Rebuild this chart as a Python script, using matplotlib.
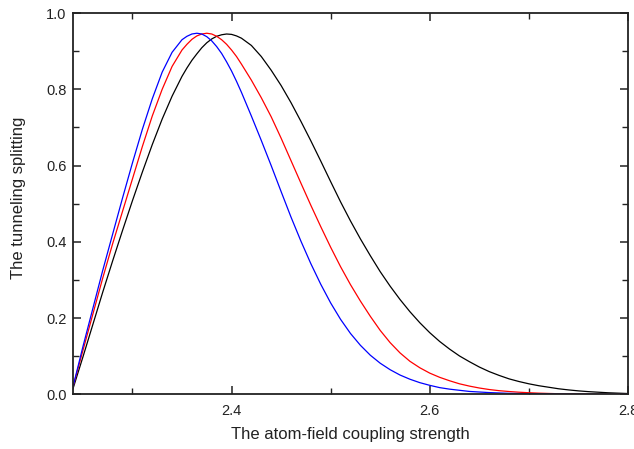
import matplotlib
matplotlib.use("Agg")
import matplotlib.pyplot as plt
from matplotlib.ticker import MultipleLocator

# coupling strength grid (finer around the peaks) and the three splitting curves
x_vals = [2.24, 2.25, 2.26, 2.27, 2.28, 2.29, 2.30, 2.31, 2.32, 2.33, 2.34,
          2.35, 2.355, 2.36, 2.365, 2.37, 2.375, 2.38, 2.385, 2.39, 2.395, 2.40, 2.405,
          2.41, 2.42, 2.43, 2.44, 2.45, 2.46, 2.47, 2.48, 2.49,
          2.50, 2.51, 2.52, 2.53, 2.54, 2.55, 2.56, 2.57, 2.58, 2.59,
          2.60, 2.61, 2.62, 2.63, 2.64, 2.65, 2.66, 2.67, 2.68, 2.69,
          2.70, 2.71, 2.72, 2.73, 2.74, 2.75, 2.76, 2.77, 2.78, 2.79, 2.80]

y_blue = [0.020, 0.125, 0.225, 0.325, 0.420, 0.515, 0.607, 0.695, 0.775, 0.845, 0.897,
          0.930, 0.939, 0.945, 0.947, 0.945, 0.938, 0.927, 0.912, 0.894, 0.872, 0.848, 0.821,
          0.792, 0.730, 0.666, 0.600, 0.532, 0.465, 0.402, 0.343, 0.289,
          0.240, 0.197, 0.160, 0.129, 0.103, 0.082, 0.065, 0.051, 0.040, 0.031,
          0.024, 0.018, 0.014, 0.011, 0.008, 0.0065, 0.005, 0.004, 0.003, 0.0025,
          0.002, 0.0016, 0.0013, 0.001, 0.0008, 0.0006, 0.0005, 0.0004, 0.0003, 0.0002, 0.0001]

y_red = [0.020, 0.115, 0.210, 0.305, 0.395, 0.480, 0.565, 0.650, 0.730, 0.800, 0.860,
         0.903, 0.918, 0.931, 0.940, 0.945, 0.947, 0.945, 0.939, 0.930, 0.918, 0.903, 0.886,
         0.866, 0.824, 0.778, 0.728, 0.672, 0.613, 0.554, 0.496, 0.440,
         0.386, 0.335, 0.288, 0.245, 0.205, 0.168, 0.136, 0.109, 0.087, 0.070,
         0.056, 0.045, 0.036, 0.028, 0.022, 0.017, 0.013, 0.010, 0.0078, 0.006,
         0.0046, 0.0035, 0.0027, 0.002, 0.0015, 0.0011, 0.0008, 0.0006, 0.0004, 0.0003, 0.0002]

y_black = [0.015, 0.098, 0.183, 0.268, 0.350, 0.430, 0.508, 0.583, 0.655, 0.722, 0.782,
           0.834, 0.856, 0.876, 0.893, 0.909, 0.922, 0.932, 0.939, 0.943, 0.945, 0.944, 0.940,
           0.934, 0.915, 0.886, 0.850, 0.810, 0.765, 0.716, 0.665, 0.612,
           0.558, 0.505, 0.455, 0.408, 0.364, 0.322, 0.284, 0.249, 0.217, 0.188,
           0.162, 0.139, 0.119, 0.101, 0.086, 0.072, 0.060, 0.050, 0.041, 0.034,
           0.028, 0.023, 0.019, 0.015, 0.012, 0.0095, 0.0075, 0.006, 0.0045, 0.0035, 0.0025]

plt.rcParams["font.family"] = ["Liberation Sans", "DejaVu Sans"]
text_color = "#222222"

fig = plt.figure(figsize = (6.34, 4.49), dpi = 100)
ax = fig.add_axes([0.1151, 0.1214, 0.8754, 0.8496])

ax.plot(x_vals, y_black, c = "black", lw = 0.9)
ax.plot(x_vals, y_red, c = "red", lw = 0.9)
ax.plot(x_vals, y_blue, c = "blue", lw = 0.9)

ax.set_xlim(2.24, 2.8)
ax.set_ylim(0.0, 1.0)
ax.xaxis.set_major_locator(MultipleLocator(0.2))
ax.xaxis.set_minor_locator(MultipleLocator(0.1))
ax.yaxis.set_major_locator(MultipleLocator(0.2))
ax.yaxis.set_minor_locator(MultipleLocator(0.1))
ax.xaxis.set_major_formatter(plt.FuncFormatter(lambda v, p: "%.1f" % v))
ax.yaxis.set_major_formatter(plt.FuncFormatter(lambda v, p: "%.1f" % v))

ax.tick_params(which = "both", direction = "in", top = True, right = True, colors = text_color)
ax.tick_params(which = "major", length = 6, width = 1.1, labelsize = 10.5)
ax.tick_params(which = "minor", length = 4, width = 1.0)
ax.tick_params(axis = "x", pad = 6.5)
ax.tick_params(axis = "y", pad = 4.5)
for s in ax.spines.values():
    s.set_linewidth(1.3)
    s.set_color(text_color)

ax.set_xlabel("The atom-field coupling strength", fontsize = 12, color = text_color)
ax.set_ylabel("The tunneling splitting", fontsize = 12, color = text_color)
ax.xaxis.set_label_coords(0.5, -0.085)
ax.yaxis.set_label_coords(-0.085, 0.515)

fig.savefig("out.png", dpi = 100)
